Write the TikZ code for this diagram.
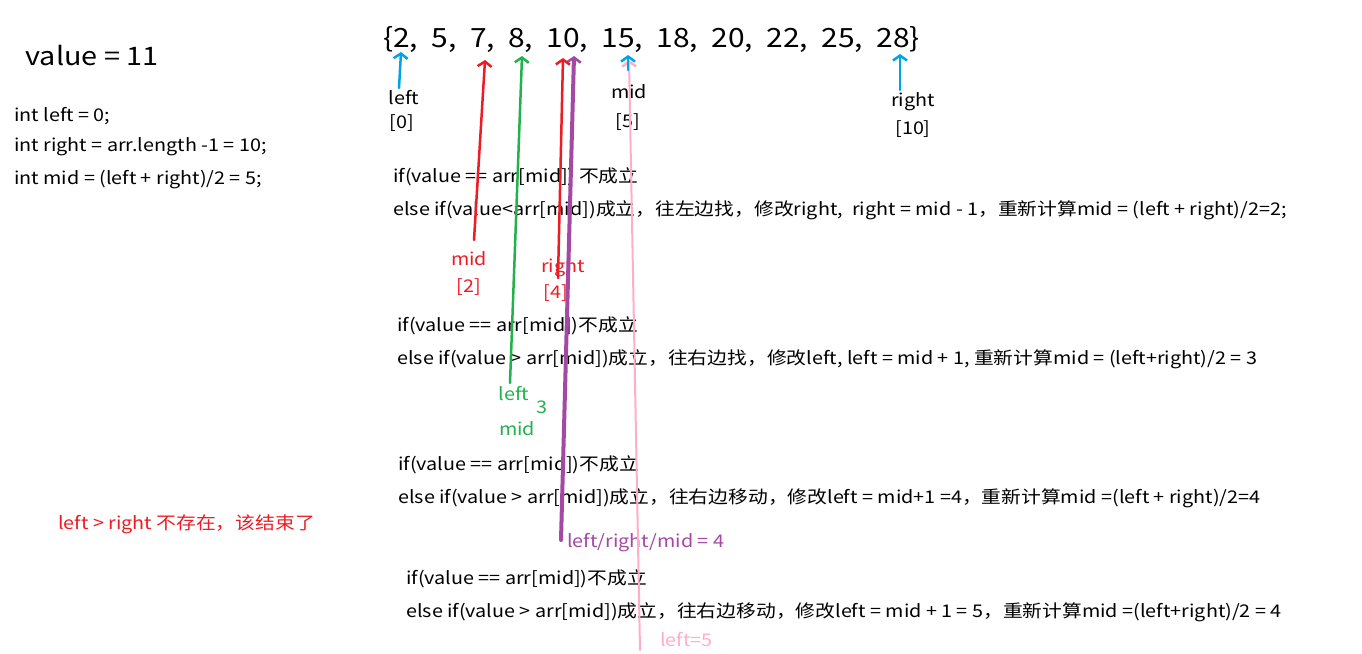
\documentclass[tikz,border=0pt]{standalone}
\usepackage{fontspec}
\setmainfont[FakeStretch=1.13]{Noto Sans CJK SC}
\usetikzlibrary{arrows.meta}
\definecolor{penblue}{RGB}{0,162,232}
\definecolor{penred}{RGB}{237,28,36}
\definecolor{pengreen}{RGB}{34,177,76}
\definecolor{penpurple}{RGB}{163,73,164}
\definecolor{penpink}{RGB}{255,174,201}
\tikzset{
  codeline/.style={anchor=west,inner sep=0pt,font=\fontsize{17.5}{20}\selectfont},
  marklabel/.style={inner sep=0pt,font=\fontsize{17.5}{20}\selectfont},
  pen/.style={line width=2.5pt,line cap=round,-{Straight Barb[length=5pt,width=14pt,line width=2.5pt]}},
}
\begin{document}
\begin{tikzpicture}[x=1pt,y=-1pt]
    \useasboundingbox[fill=white] (0,0) rectangle (1362,653);

    \node (value) at (92,56) {\fontsize{25.5}{28}\selectfont value = 11};
    \node[codeline] (init1) at (14,116) {int left = 0;};
    \node[codeline] (init2) at (14,147) {int right = arr.length -1 = 10;};
    \node[codeline] (init3) at (14,180) {int mid = (left + right)/2 = 5;};

    \node[anchor=west,inner sep=0pt] (arr) at (383,40) {\fontsize{26.5}{30}\selectfont \{2,\ \ 5,\ \ 7,\ \ 8,\ \ 10,\ \ 15,\ \ 18,\ \ 20,\ \ 22,\ \ 25,\ \ 28\}};

    % steps
    \node[codeline] (s1a) at (393,177) {if(value == arr[mid]) 不成立};
    \node[codeline] (s1b) at (393,210) {else if(value<arr[mid])成立，往左边找，修改right, \ right = mid - 1，重新计算mid = (left + right)/2=2;};
    \node[codeline] (s2a) at (397,326) {if(value == arr[mid])不成立};
    \node[codeline] (s2b) at (397,359) {else if(value > arr[mid])成立，往右边找，修改left, left = mid + 1, 重新计算mid = (left+right)/2 = 3};
    \node[codeline] (s3a) at (398,465) {if(value == arr[mid])不成立};
    \node[codeline] (s3b) at (398,498) {else if(value > arr[mid])成立，往右边移动，修改left = mid+1 =4，重新计算mid =(left + right)/2=4};
    \node[codeline] (s4a) at (406,579) {if(value == arr[mid])不成立};
    \node[codeline] (s4b) at (406,612) {else if(value > arr[mid])成立，往右边移动，修改left = mid + 1 = 5，重新计算mid =(left+right)/2 = 4};

    \node[codeline,text=penred] (stop) at (58,524) {left > right 不存在，该结束了};

    % labels
    \node[marklabel] (lleft) at (404,98) {left};
    \node[marklabel] (ileft) at (402,123) {[0]};
    \node[marklabel] (lmid) at (629,92) {mid};
    \node[marklabel] (imid) at (628,122) {[5]};
    \node[marklabel] (lright) at (913,102) {right};
    \node[marklabel] (iright) at (913,129) {[10]};
    \node[marklabel,text=penred] (lmid2) at (469,259) {mid};
    \node[marklabel,text=penred] (imid2) at (469,287) {[2]};
    \node[marklabel,text=penred] (lright2) at (563,268) {right};
    \node[marklabel,text=penred] (iright2) at (556,293) {[4]};
    \node[marklabel,text=pengreen] (lleft3) at (514,394) {left};
    \node[marklabel,text=pengreen] (n3) at (542,407) {3};
    \node[marklabel,text=pengreen] (lmid3) at (517,429) {mid};
    \node[codeline,text=penpurple] (lall) at (567,543) {left/right/mid = 4};
    \node[codeline,text=penpink] (lleft5) at (660,640) {left=5};

    % pen strokes
    \coordinate (aLeft) at (399,88);   \coordinate (hLeft) at (401,52);
    \coordinate (aMid) at (628,70);    \coordinate (hMid) at (628,55);
    \coordinate (aRight) at (900,90);  \coordinate (hRight) at (900,54);
    \coordinate (aMid2) at (474,240);  \coordinate (hMid2) at (485,60);
    \coordinate (aRight2) at (558,278); \coordinate (hRight2) at (563,58);
    \coordinate (aGreen) at (510,383); \coordinate (hGreen) at (522,56);
    \coordinate (aPurple) at (561,540); \coordinate (hPurple) at (574,56);
    \coordinate (aPink) at (640,650);  \coordinate (hPink) at (629,60);

    \draw[pen,penpink,line width=2pt] (aPink) -- (hPink);
    \draw[pen,penpurple,line width=4pt] (aPurple) -- (hPurple);
    \draw[pen,pengreen] (aGreen) -- (hGreen);
    \draw[pen,penred] (aRight2) -- (hRight2);
    \draw[pen,penred] (aMid2) -- (hMid2);
    \draw[pen,penblue] (aLeft) -- (hLeft);
    \draw[pen,penblue] (aMid) -- (hMid);
    \draw[pen,penblue] (aRight) -- (hRight);
\end{tikzpicture}
\end{document}
